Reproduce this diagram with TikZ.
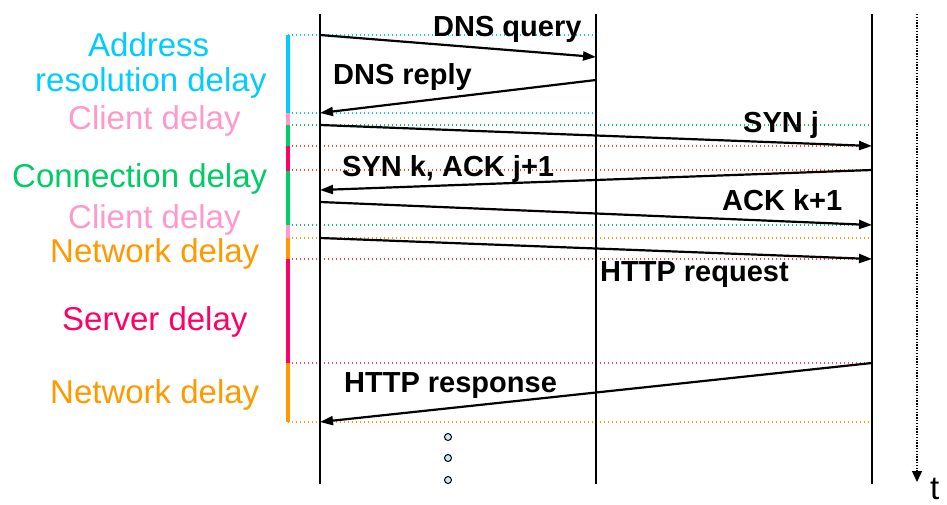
\documentclass[tikz,border=0pt]{standalone}
\usepackage{fontspec}
\setmainfont{Liberation Sans}
\usetikzlibrary{arrows.meta}
\definecolor{cAddr}{HTML}{00CCFF}
\definecolor{cClient}{HTML}{FF99CC}
\definecolor{cConn}{HTML}{00CC66}
\definecolor{cServ}{HTML}{FF0066}
\definecolor{cNet}{HTML}{FF9900}
\definecolor{cRedDot}{HTML}{FF4422}
\definecolor{cDotFill}{HTML}{CCE8F8}
\begin{document}
\begin{tikzpicture}[x=1pt,y=-1pt,
  lifeline/.style={line width=2.4pt,black},
  msg/.style={line width=2.2pt,black,-{Triangle[length=13pt,width=9pt]}},
  sep/.style={line width=1.4pt,dash pattern=on 1.4pt off 2.6pt},
  bar/.style={line width=4pt},
  msglabel/.style={font=\fontsize{29}{32}\selectfont\bfseries,inner sep=0pt,anchor=base west},
  delaylabel/.style={font=\fontsize{33}{36}\selectfont,inner sep=0pt,anchor=base west},
  ddot/.style={circle,draw=black,line width=1pt,fill=cDotFill,minimum size=7pt,inner sep=0pt}]
\useasboundingbox (0,0) rectangle (947,505);

% separators (dotted)
\draw[sep,cAddr] (288,35) -- (596,35);
\draw[sep,cAddr] (288,113) -- (596,113);
\draw[sep,cConn] (288,125) -- (872,125);
\draw[sep,cRedDot] (288,146) -- (872,146);
\draw[sep,cRedDot] (288,170) -- (872,170);
\draw[sep,cConn] (288,225) -- (872,225);
\draw[sep,cNet] (288,238) -- (872,238);
\draw[sep,cRedDot] (288,259) -- (872,259);
\draw[sep,cServ!75] (288,363) -- (872,363);
\draw[sep,cNet] (288,422) -- (872,422);

% colour bar
\draw[bar,cAddr] (288,35) -- (288,113);
\draw[bar,cClient] (288,113) -- (288,125);
\draw[bar,cConn] (288,125) -- (288,146);
\draw[bar,cServ] (288,146) -- (288,171);
\draw[bar,cConn] (288,171) -- (288,225);
\draw[bar,cClient] (288,225) -- (288,238);
\draw[bar,cNet] (288,238) -- (288,259);
\draw[bar,cServ] (288,259) -- (288,363);
\draw[bar,cNet] (288,363) -- (288,422);

% lifelines
\coordinate (c0) at (320,14); \coordinate (c1) at (320,484);
\coordinate (d0) at (596,14); \coordinate (d1) at (596,484);
\coordinate (s0) at (872,14); \coordinate (s1) at (872,484);
\draw[lifeline] (c0) -- (c1);
\draw[lifeline] (d0) -- (d1);
\draw[lifeline] (s0) -- (s1);

% message end points
\coordinate (q0) at (320,35);  \coordinate (q1) at (596,57);
\coordinate (r0) at (596,80);  \coordinate (r1) at (320,113);
\coordinate (sj0) at (320,125); \coordinate (sj1) at (872,146);
\coordinate (sk0) at (872,170); \coordinate (sk1) at (320,190);
\coordinate (ak0) at (320,202); \coordinate (ak1) at (872,225);
\coordinate (hq0) at (320,238); \coordinate (hq1) at (872,259);
\coordinate (hr0) at (872,363); \coordinate (hr1) at (320,422);
\draw[msg] (q0) -- (q1);
\draw[msg] (r0) -- (r1);
\draw[msg] (sj0) -- (sj1);
\draw[msg] (sk0) -- (sk1);
\draw[msg] (ak0) -- (ak1);
\draw[msg] (hq0) -- (hq1);
\draw[msg] (hr0) -- (hr1);

% message labels
\node[msglabel] (lq) at (433,37) {DNS query};
\node[msglabel] (lr) at (333,85) {DNS reply};
\node[msglabel] (lsj) at (743,133) {SYN j};
\node[msglabel] (lsk) at (342,177) {SYN k, ACK j+1};
\node[msglabel] (lak) at (722,210) {ACK k+1};
\node[msglabel] (lhq) at (600,281) {HTTP request};
\node[msglabel] (lhr) at (344,392) {HTTP response};

% delay labels
\node[delaylabel,text=cAddr] (t1) at (88,57) {Address};
\node[delaylabel,text=cAddr] (t2) at (35,92) {resolution delay};
\node[delaylabel,text=cClient] (t3) at (68,130) {Client delay};
\node[delaylabel,text=cConn] (t4) at (12,187) {Connection delay};
\node[delaylabel,text=cClient] (t5) at (68,228) {Client delay};
\node[delaylabel,text=cNet] (t6) at (50,262) {Network delay};
\node[delaylabel,text=cServ] (t7) at (62,330) {Server delay};
\node[delaylabel,text=cNet] (t8) at (50,403) {Network delay};

% continuation dots
\node[ddot] (e1) at (448,437) {};
\node[ddot] (e2) at (448,458) {};
\node[ddot] (e3) at (448,480) {};

% time axis
\coordinate (ta0) at (917,14);
\coordinate (ta1) at (917,482);
\draw[line width=1.4pt,dash pattern=on 1.4pt off 1.4pt,-{Triangle[length=11pt,width=10pt]}] (ta0) -- (ta1);
\node[delaylabel] (tl) at (930,499) {t};
\end{tikzpicture}
\end{document}
